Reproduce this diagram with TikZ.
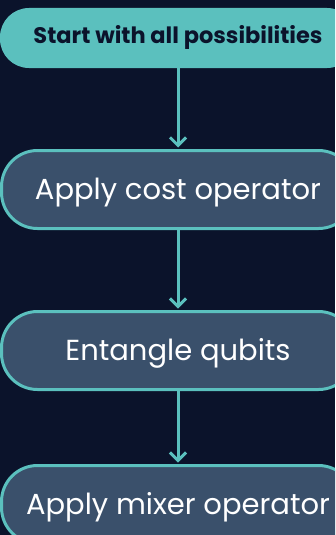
\documentclass[tikz,border=0pt]{standalone}
\usepackage{fontspec}
\setmainfont{Poppins}
\usetikzlibrary{arrows.meta}
\definecolor{bgnavy}{HTML}{0B132B}
\definecolor{teal}{HTML}{5BC0BE}
\definecolor{slate}{HTML}{3A506B}
\tikzset{
  startbox/.style={fill=teal, draw=none, rounded corners=29pt, minimum width=356pt, minimum height=60pt,
    inner sep=0pt, text height=16pt, text depth=4.2pt, text=bgnavy, font=\fontsize{22.5}{26}\selectfont\bfseries},
  stepbox/.style={fill=slate, draw=teal, line width=3pt, rounded corners=36pt, minimum width=353pt,
    minimum height=78pt, inner sep=0pt, text height=24pt, text depth=3.5pt, text=white, font=\fontsize{29}{34}\selectfont},
  flow/.style={draw=teal, line width=3pt, -{Straight Barb[length=8pt,width=16pt,line width=3pt]}}
}
\begin{document}
\begin{tikzpicture}[x=1pt,y=-1pt]
\useasboundingbox (0,0) rectangle (335,535);
\clip (0,0) rectangle (335,535);
\fill[bgnavy] (0,0) rectangle (335,535);
\node[startbox] (s) at (178,38) {Start with all possibilities};
\node[stepbox] (c) at (178,189.5) {Apply cost operator};
\node[stepbox] (e) at (178,350.5) {Entangle qubits};
\node[stepbox] (m) at (178,504.5) {Apply mixer operator};
\draw[flow] (s.south) -- ([yshift=1.5pt]c.north);
\draw[flow] (c.south) -- ([yshift=1.5pt]e.north);
\draw[flow] (e.south) -- ([yshift=1.5pt]m.north);
\end{tikzpicture}
\end{document}
